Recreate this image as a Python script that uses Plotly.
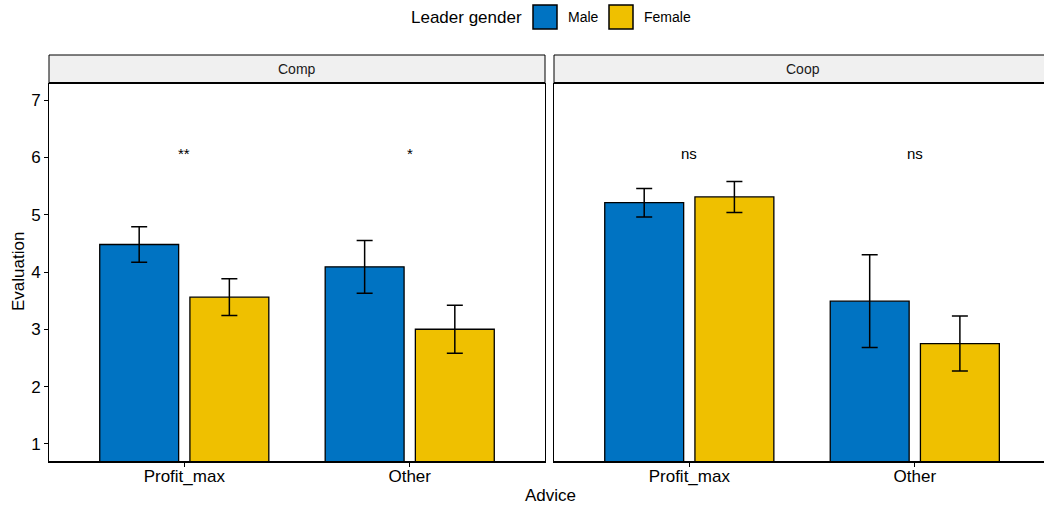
import plotly.graph_objects as go

# Figure size in pixels
W, H = 1044, 508

# ---- data -------------------------------------------------------------
advice = ["Profit_max", "Other"]
panels = ["Comp", "Coop"]
genders = ["Male", "Female"]
gender_colors = ["#0073C2", "#EFC000"]

comp_male = [4.48, 4.09]
comp_male_se = [0.31, 0.46]
comp_female = [3.56, 3.00]
comp_female_se = [0.32, 0.42]

coop_male = [5.21, 3.49]
coop_male_se = [0.25, 0.81]
coop_female = [5.31, 2.75]
coop_female_se = [0.27, 0.48]

comp_signif = ["**", "*"]
coop_signif = ["ns", "ns"]
signif_y = 6.07

y_ticks = [1, 2, 3, 4, 5, 6, 7]

# ---- helpers: figure pixels -> paper fractions (margins are zero) -----
def fx(px):
    return px / W


def fy(py):
    return 1 - py / H


FONT = "Liberation Sans, Arial, Helvetica, sans-serif"

panel_data = {
    "Comp": [(comp_male, comp_male_se), (comp_female, comp_female_se)],
    "Coop": [(coop_male, coop_male_se), (coop_female, coop_female_se)],
}
panel_signif = {"Comp": comp_signif, "Coop": coop_signif}
axes = {"Comp": ("x", "y"), "Coop": ("x2", "y2")}

fig = go.Figure()

for panel in panels:
    xa, ya = axes[panel]
    for gi, gender in enumerate(genders):
        vals, se = panel_data[panel][gi]
        fig.add_trace(go.Bar(
            x=advice,
            y=vals,
            name=gender,
            offsetgroup=gender,
            xaxis=xa,
            yaxis=ya,
            showlegend=False,
            marker=dict(color=gender_colors[gi],
                        line=dict(color="black", width=1.3)),
            error_y=dict(type="data", array=se, visible=True,
                         color="black", thickness=1.5, width=8),
        ))
    # significance labels above each advice group
    for cat, lab in zip(advice, panel_signif[panel]):
        fig.add_annotation(x=cat, y=signif_y, xref=xa, yref=ya, text=lab,
                           showarrow=False, xanchor="center", yanchor="middle",
                           font=dict(family=FONT, size=15, color="black"))

panel_top, panel_bottom = 83, 461
strip_top = 55
left_x0, left_x1 = 49, 545
right_x0 = 554

common_x = dict(
    type="category", showgrid=False, zeroline=False,
    showline=True, linecolor="black", linewidth=2,
    ticks="outside", ticklen=4, tickwidth=1, tickcolor="black",
    ticklabelstandoff=-5,
    tickfont=dict(family=FONT, size=17, color="black"),
    automargin=False, fixedrange=True,
)
common_y = dict(
    range=[0.7, 7.3], showgrid=False, zeroline=False,
    showline=True, linecolor="black", linewidth=1,
    automargin=False, fixedrange=True,
    domain=[fy(panel_bottom), fy(panel_top)],
)

fig.update_layout(
    width=W, height=H,
    margin=dict(l=0, r=0, t=0, b=0),
    paper_bgcolor="white", plot_bgcolor="white",
    barmode="group", bargap=0.2, bargroupgap=0.125,
    font=dict(family=FONT, color="black"),
    showlegend=False,
    xaxis=dict(common_x, domain=[fx(left_x0), fx(left_x1)],
               range=[-0.6, 1.6], anchor="y"),
    xaxis2=dict(common_x, domain=[fx(right_x0), 1.0],
                range=[-0.6, 1.573], anchor="y2"),
    yaxis=dict(common_y, anchor="x", mirror=True,
               tickvals=y_ticks, ticks="outside", ticklen=4, tickwidth=1,
               tickcolor="black",
               tickfont=dict(family=FONT, size=17, color="black")),
    yaxis2=dict(common_y, anchor="x2", showticklabels=False, ticks=""),
)

# ---- facet strips -----------------------------------------------------
shapes = []
strip_spans = [(left_x0, left_x1), (right_x0, 1052)]
for (x0, x1), panel in zip(strip_spans, panels):
    shapes.append(dict(type="rect", xref="paper", yref="paper",
                       x0=fx(x0), x1=fx(x1), y0=fy(panel_top), y1=fy(strip_top),
                       fillcolor="#F0F0F0", line=dict(color="black", width=1),
                       layer="below"))
    shapes.append(dict(type="line", xref="paper", yref="paper",
                       x0=fx(x0), x1=fx(x1), y0=fy(panel_top), y1=fy(panel_top),
                       line=dict(color="black", width=2), layer="above"))
    fig.add_annotation(xref="paper", yref="paper",
                       x=fx((x0 + min(x1, 1051)) / 2),
                       y=fy((strip_top + panel_top) / 2),
                       xanchor="center", yanchor="middle",
                       text=panel, showarrow=False,
                       font=dict(family=FONT, size=14, color="#1a1a1a"))

# ---- legend (title, keys, labels) -------------------------------------
legend_cy = 17
fig.add_annotation(xref="paper", yref="paper", x=fx(524), y=fy(legend_cy),
                   xanchor="right", yanchor="middle", text="Leader gender",
                   showarrow=False, font=dict(family=FONT, size=17, color="black"))
key_x = [533, 609]
for kx, gender, col in zip(key_x, genders, gender_colors):
    shapes.append(dict(type="rect", xref="paper", yref="paper",
                       x0=fx(kx), x1=fx(kx + 24),
                       y0=fy(legend_cy + 12), y1=fy(legend_cy - 12),
                       fillcolor=col, line=dict(color="black", width=1.5)))
    fig.add_annotation(xref="paper", yref="paper", x=fx(kx + 33), y=fy(legend_cy),
                       xanchor="left", yanchor="middle", text=gender,
                       showarrow=False, font=dict(family=FONT, size=14, color="black"))

fig.update_layout(shapes=shapes)

# ---- axis titles ------------------------------------------------------
fig.add_annotation(xref="paper", yref="paper", x=fx(550), y=fy(495),
                   text="Advice", showarrow=False,
                   xanchor="center", yanchor="middle",
                   font=dict(family=FONT, size=17, color="black"))
fig.add_annotation(xref="paper", yref="paper", x=fx(18),
                   y=fy((panel_top + panel_bottom) / 2),
                   text="Evaluation", textangle=-90, showarrow=False,
                   xanchor="center", yanchor="middle",
                   font=dict(family=FONT, size=17, color="black"))

fig.write_html("out.html")
